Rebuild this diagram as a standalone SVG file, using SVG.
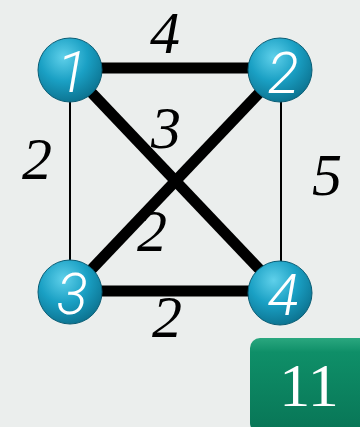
<svg xmlns="http://www.w3.org/2000/svg" width="360" height="427" viewBox="0 0 360 427">
<defs>
<radialGradient id="ball" cx="0.4" cy="0.3" r="0.75">
<stop offset="0" stop-color="#5fd0ea"/>
<stop offset="0.5" stop-color="#1aa0c4"/>
<stop offset="1" stop-color="#0b6f8c"/>
</radialGradient>
<linearGradient id="box" x1="0" y1="0" x2="0" y2="1">
<stop offset="0" stop-color="#2aa77f"/>
<stop offset="0.15" stop-color="#0f8f68"/>
<stop offset="1" stop-color="#087556"/>
</linearGradient>
<style>
.thick{stroke:#000;stroke-width:11;stroke-linecap:butt}
.thin{stroke:#000;stroke-width:2}
.lbl{font-family:"Liberation Serif",serif;font-style:italic;font-size:60px;fill:#000;text-anchor:middle}
.num{font-family:Roboto,"Liberation Sans",sans-serif;font-weight:300;font-style:italic;font-size:58px;fill:#fff;text-anchor:middle}
.node circle{fill:url(#ball);stroke:#0a5d75;stroke-width:1}
</style>
</defs>
<rect width="360" height="427" fill="#ebeeed"/>
<g id="connectors">
<line class="thick" x1="70" y1="68" x2="281" y2="68"/>
<line class="thick" x1="70" y1="291" x2="281" y2="291"/>
<line class="thin" x1="70" y1="70" x2="70" y2="292"/>
<line class="thin" x1="281" y1="70" x2="281" y2="292"/>
<line class="thick" x1="70" y1="70" x2="281" y2="292"/>
<line class="thick" x1="281" y1="70" x2="70" y2="292"/>
<text class="lbl" x="165" y="53">4</text>
<text class="lbl" x="37" y="179">2</text>
<text class="lbl" x="327" y="195">5</text>
<text class="lbl" x="166" y="148">3</text>
<text class="lbl" x="152" y="251">2</text>
<text class="lbl" x="167" y="337">2</text>
</g>
<g id="n1" class="node"><circle cx="70" cy="70" r="32"/><text class="num" x="72" y="92">1</text></g>
<g id="n2" class="node"><circle cx="280" cy="70" r="32"/><text class="num" x="283" y="93">2</text></g>
<g id="n3" class="node"><circle cx="70" cy="292" r="32"/><text class="num" x="72" y="314">3</text></g>
<g id="n4" class="node"><circle cx="280" cy="293" r="32"/><text class="num" x="283" y="315">4</text></g>
<g id="score">
<rect x="250" y="338" width="125" height="95" rx="10" fill="url(#box)"/>
<text x="309" y="406" font-family="Liberation Serif,serif" font-size="62" fill="#fff" text-anchor="middle">11</text>
</g>
</svg>
